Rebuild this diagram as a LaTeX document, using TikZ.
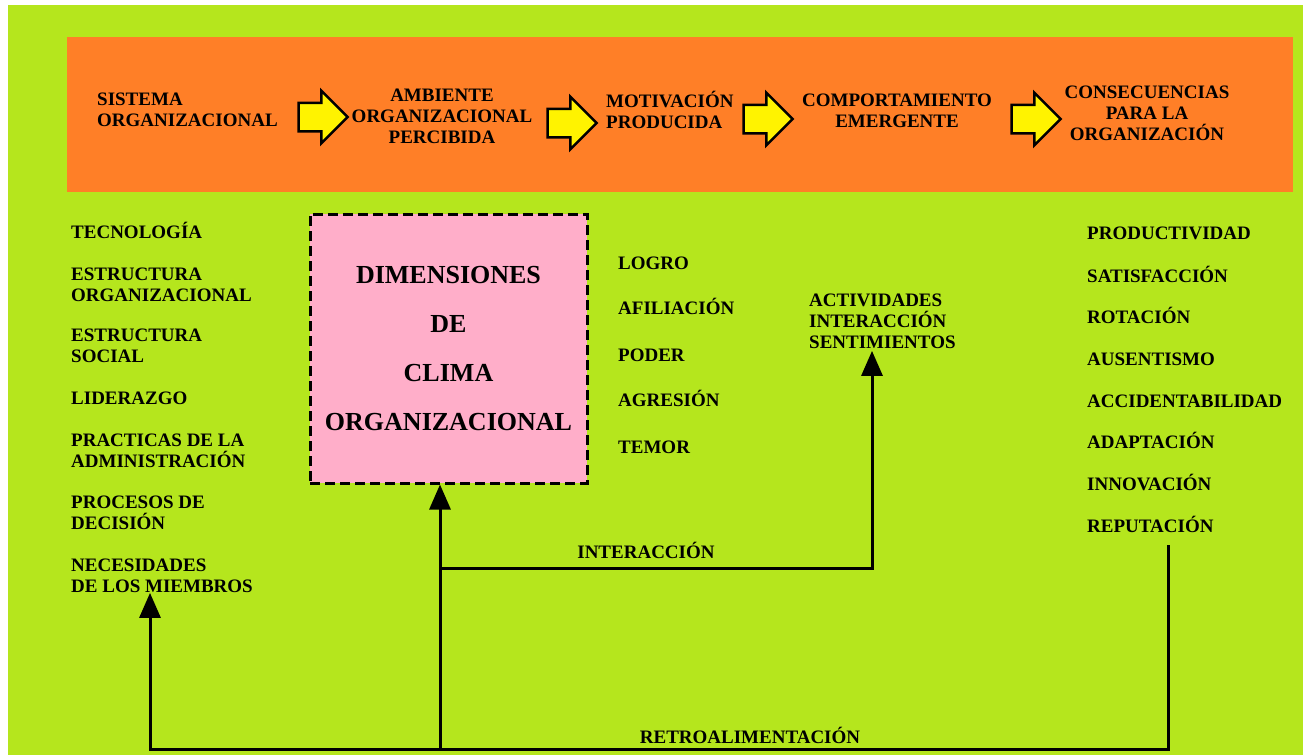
\documentclass[tikz,border=0pt]{standalone}
\usepackage{fontspec}
\setmainfont{Liberation Serif}
\usepackage{tikz}
\usetikzlibrary{shapes.arrows,arrows.meta,positioning}
\definecolor{lima}{RGB}{181,230,29}
\definecolor{naranja}{RGB}{255,127,39}
\definecolor{rosa}{RGB}{255,174,201}
\definecolor{amarillo}{RGB}{255,243,0}

\begin{document}
\begin{tikzpicture}[x=1pt,y=-1pt,
    txt/.style={inner sep=0pt,font=\fontsize{19}{21}\selectfont\bfseries},
    izq/.style={txt,anchor=base west,align=left},
    cen/.style={txt,anchor=base,align=center},
    bloque/.style={single arrow,draw=black,line width=2.5pt,fill=amarillo,inner xsep=0pt,inner ysep=13pt,
        minimum height=49pt,single arrow head extend=12pt},
    caja/.style={draw=black,fill=rosa,line width=3pt,dash pattern=on 10pt off 5pt,
        minimum width=277pt,minimum height=269pt,align=center,
        font=\fontsize{26}{49}\selectfont\bfseries},
    flecha/.style={line width=3pt,-{Triangle[width=21pt,length=25pt]}}]
    \useasboundingbox (0,0) rectangle (1303,755);
    \fill[white] (0,0) rectangle (1303,755);
    \fill[lima] (8,5) rectangle (1303,755);
    \fill[naranja] (67,37) rectangle (1293,192);

    \node[izq] (sis) at (97,126) {SISTEMA\\ORGANIZACIONAL};
    \node[bloque] (f1) at (316,117) {};
    \node[cen] (amb) at (442,143) {AMBIENTE\\ORGANIZACIONAL\\PERCIBIDA};
    \node[bloque] (f2) at (565,123) {};
    \node[izq] (mot) at (606,128.5) {MOTIVACIÓN\\PRODUCIDA};
    \node[bloque] (f3) at (761,119) {};
    \node[cen] (com) at (897,127) {COMPORTAMIENTO\\EMERGENTE};
    \node[bloque] (f4) at (1029,119) {};
    \node[cen] (con) at (1147,140) {CONSECUENCIAS\\PARA LA\\ORGANIZACIÓN};

    \node[izq] (tec) at (71,238.5) {TECNOLOGÍA};
    \node[izq] (eor) at (71,301) {ESTRUCTURA\\ORGANIZACIONAL};
    \node[izq] (eso) at (71,362.5) {ESTRUCTURA\\SOCIAL};
    \node[izq] (lid) at (71,404.5) {LIDERAZGO};
    \node[izq] (pra) at (71,467.5) {PRACTICAS DE LA\\ADMINISTRACIÓN};
    \node[izq] (pro) at (71,529.5) {PROCESOS DE\\DECISIÓN};
    \node[izq] (nec) at (71,592.5) {NECESIDADES\\DE LOS MIEMBROS};

    \node[caja] (clima) at (448.5,348.5) {DIMENSIONES\\DE\\CLIMA\\ORGANIZACIONAL};

    \node[izq] (log) at (618,269.5) {LOGRO};
    \node[izq] (afi) at (618,314.5) {AFILIACIÓN};
    \node[izq] (pod) at (618,361.5) {PODER};
    \node[izq] (agr) at (618,406.5) {AGRESIÓN};
    \node[izq] (tem) at (618,453.5) {TEMOR};

    \node[izq] (act) at (809,348.5) {ACTIVIDADES\\INTERACCIÓN\\SENTIMIENTOS};

    \node[izq] (prd) at (1087,239.5) {PRODUCTIVIDAD};
    \node[izq] (sat) at (1087,282.5) {SATISFACCIÓN};
    \node[izq] (rot) at (1087,323.5) {ROTACIÓN};
    \node[izq] (aus) at (1087,365.5) {AUSENTISMO};
    \node[izq] (acc) at (1087,407.5) {ACCIDENTABILIDAD};
    \node[izq] (ada) at (1087,448.5) {ADAPTACIÓN};
    \node[izq] (inn) at (1087,490.5) {INNOVACIÓN};
    \node[izq] (rep) at (1087,532.5) {REPUTACIÓN};

    \node[cen] (inter) at (646,558.5) {INTERACCIÓN};
    \node[cen] (retro) at (750,743.5) {RETROALIMENTACIÓN};

    \coordinate (base) at (440,749);
    \coordinate (cruce) at (440,568);
    \coordinate (esq) at (872,568);
    \coordinate (izqb) at (150,749);
    \coordinate (derb) at (1168,749);
    \coordinate (dert) at (1168,545);
    \draw[flecha] (base) -- (clima.south -| base);
    \draw[flecha] (cruce) -- (esq) -- ([yshift=-2pt]esq |- act.south);
    \draw[flecha] (dert) -- (derb) -- (izqb) -- (nec.south -| izqb);
\end{tikzpicture}
\end{document}
